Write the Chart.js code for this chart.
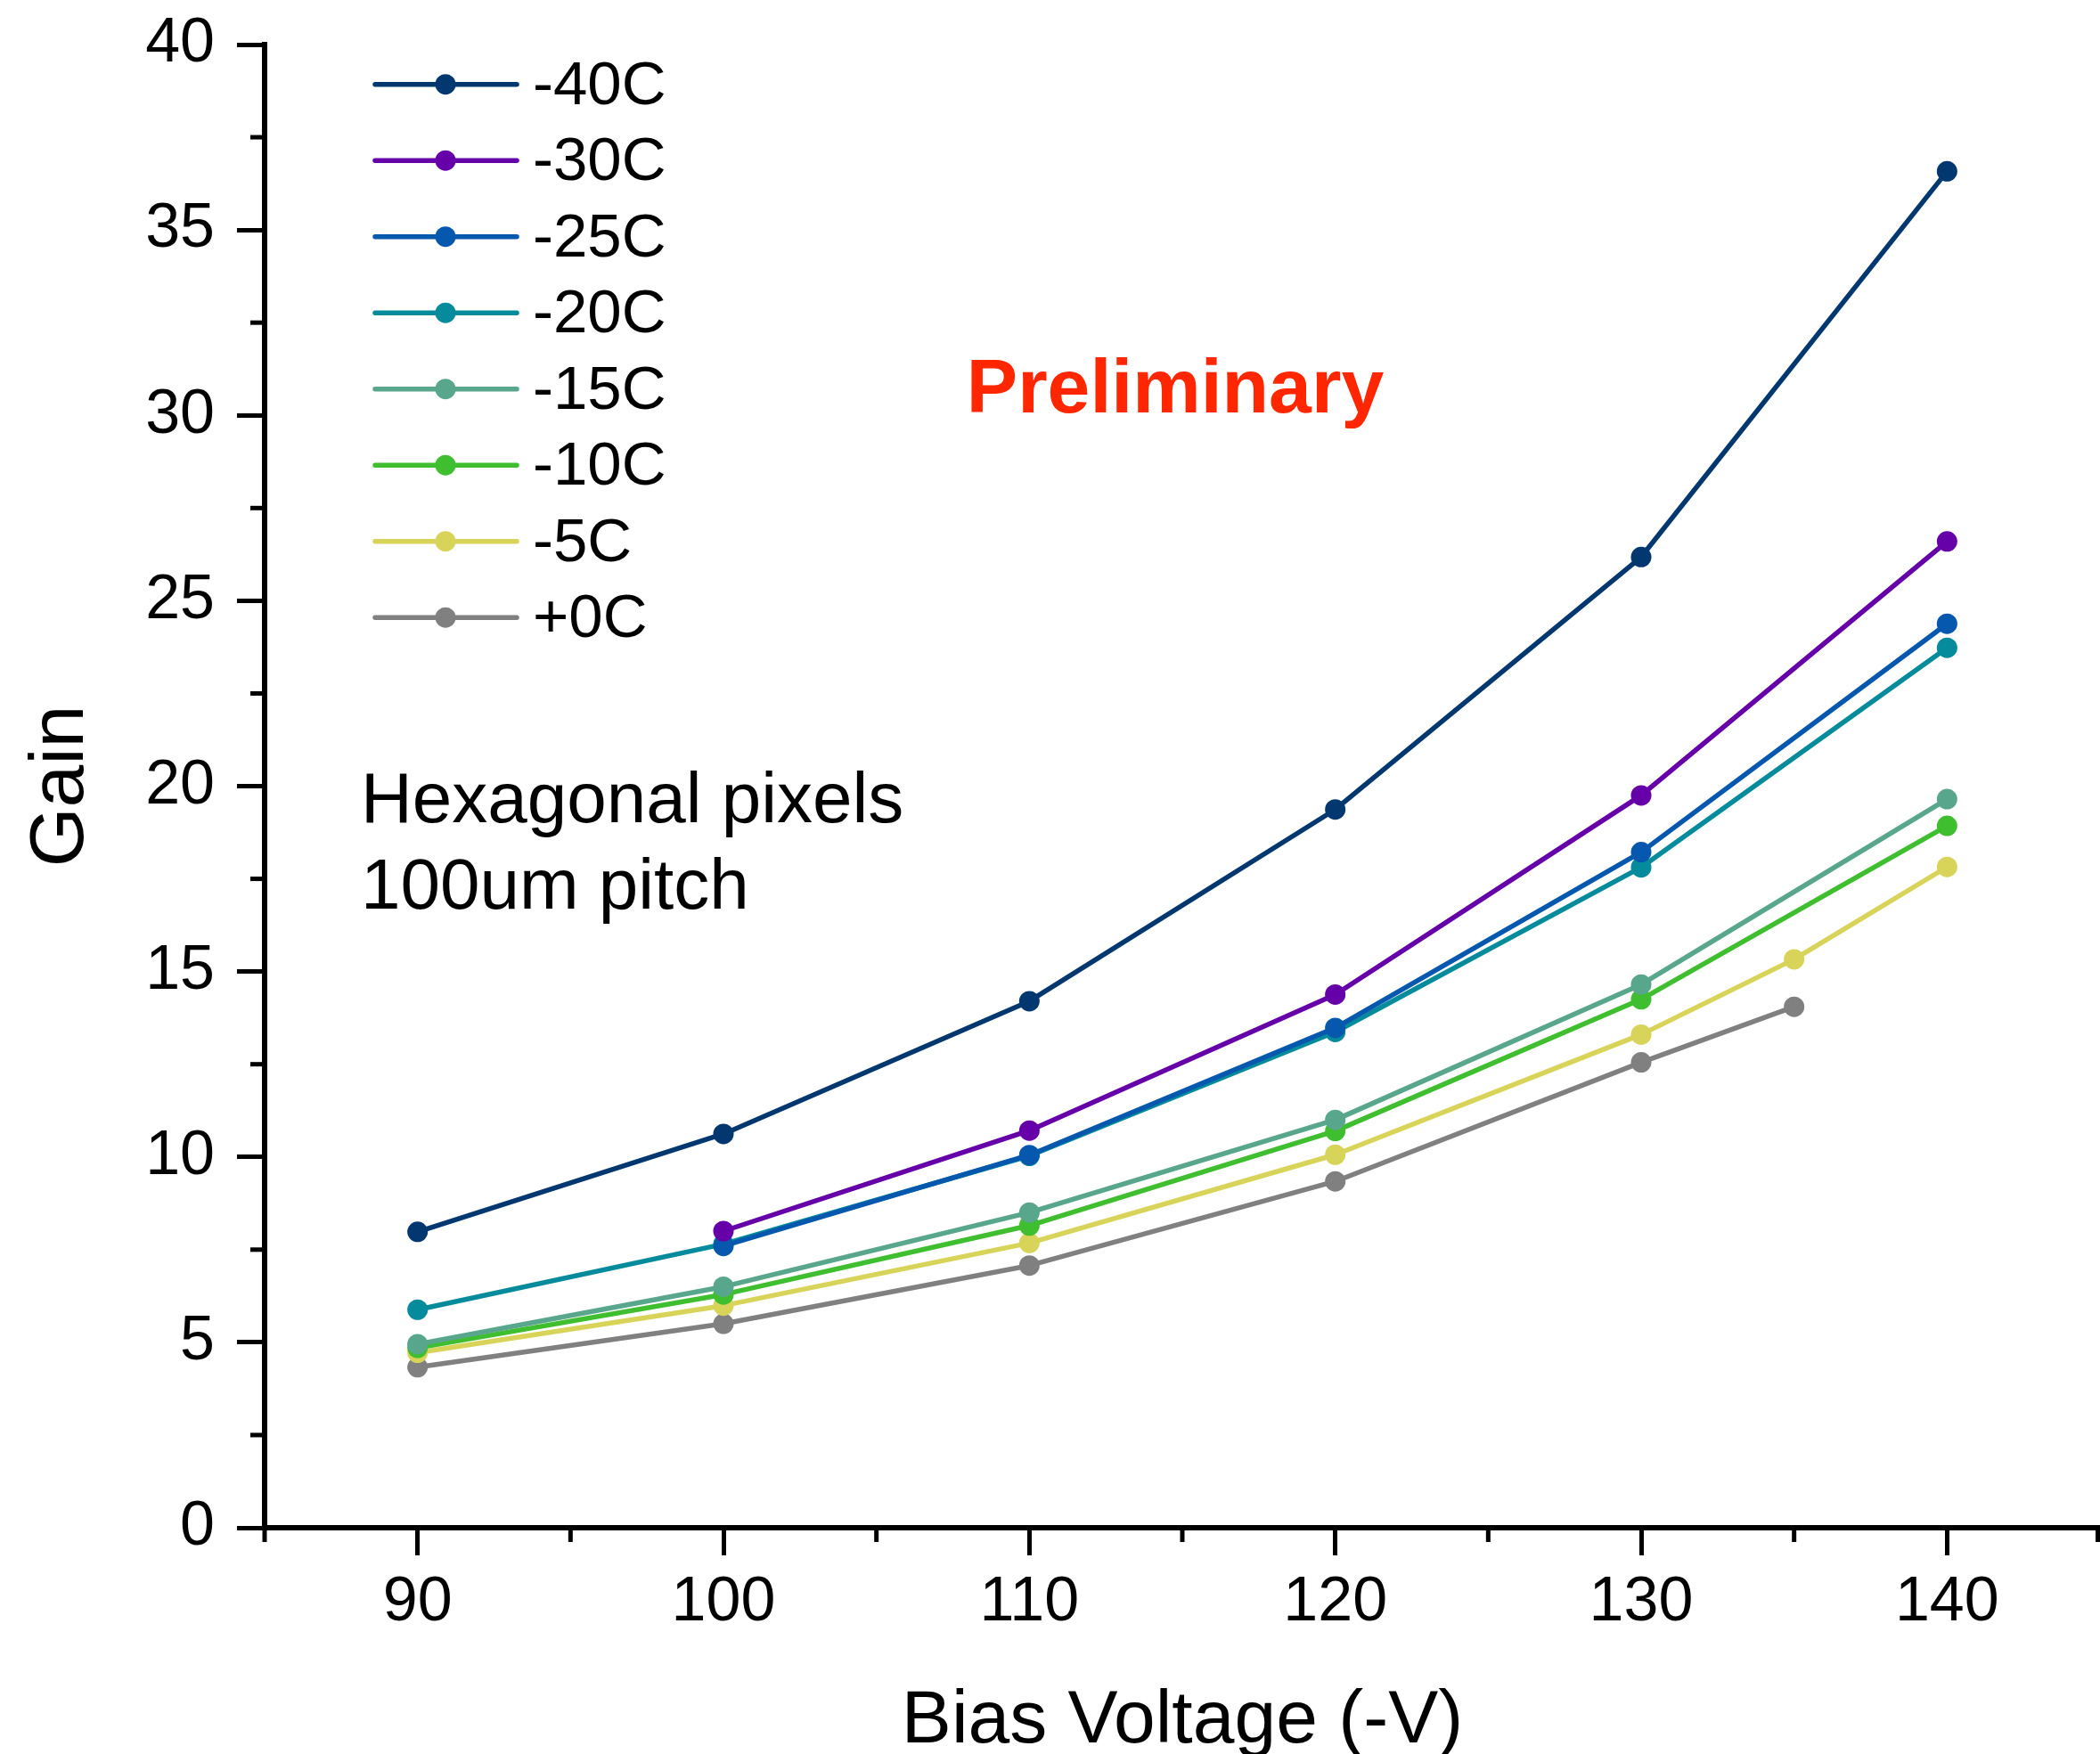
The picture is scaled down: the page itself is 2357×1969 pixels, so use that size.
<!DOCTYPE html>
<html><head><meta charset="utf-8">
<script src="https://cdn.jsdelivr.net/npm/chart.js@4"></script>
<style>html,body{margin:0;padding:0;background:#fff;overflow:hidden}canvas{display:block}</style>
</head><body>
<canvas id="c" width="2357" height="1969"></canvas>
<script>
// ---- data ----
const seriesLabels = ['-40C', '-30C', '-25C', '-20C', '-15C', '-10C', '-5C', '+0C'];
const seriesColors = ['#02386f', '#6600a8', '#0558ae', '#068b9c', '#58a68c', '#3fbf2f', '#d8d45a', '#808080'];

const voltM40 = [90, 100, 110, 120, 130, 140];
const gainM40 = [7.98, 10.62, 14.2, 19.37, 26.18, 36.58];
const voltM30 = [100, 110, 120, 130, 140];
const gainM30 = [8.0, 10.71, 14.38, 19.75, 26.6];
const voltM25 = [100, 110, 120, 130, 140];
const gainM25 = [7.6, 10.05, 13.48, 18.22, 24.38];
const voltM20 = [90, 100, 110, 120, 130, 140];
const gainM20 = [5.88, 7.65, 10.03, 13.37, 17.81, 23.73];
const voltM15 = [90, 100, 110, 120, 130, 140];
const gainM15 = [4.95, 6.5, 8.5, 11.0, 14.65, 19.65];
const voltM10 = [90, 100, 110, 120, 130, 140];
const gainM10 = [4.85, 6.29, 8.15, 10.7, 14.25, 18.93];
const voltM5 = [90, 100, 110, 120, 130, 135, 140];
const gainM5 = [4.72, 5.99, 7.68, 10.06, 13.3, 15.33, 17.82];
const voltP0 = [90, 100, 110, 120, 130, 135];
const gainP0 = [4.33, 5.5, 7.07, 9.34, 12.55, 14.05];

const xTickValues = [90, 100, 110, 120, 130, 140];
const xMinorTickValues = [85, 95, 105, 115, 125, 135, 145];
const yTickValues = [0, 5, 10, 15, 20, 25, 30, 35, 40];
const yMinorTickValues = [2.5, 7.5, 12.5, 17.5, 22.5, 27.5, 32.5, 37.5];

const xTitle = 'Bias Voltage (-V)';
const yTitle = 'Gain';
const noteLines = ['Hexagonal pixels', '100um pitch'];
const stampText = 'Preliminary';

// ---- build ----
const volts = [voltM40, voltM30, voltM25, voltM20, voltM15, voltM10, voltM5, voltP0];
const gains = [gainM40, gainM30, gainM25, gainM20, gainM15, gainM10, gainM5, gainP0];
const FONT = '"Liberation Sans", Arial, Helvetica, sans-serif';
const LINE_W = 5.5;
const PT_R = 11.5;

const datasets = seriesLabels.map((lab, i) => ({
  label: lab,
  data: volts[i].map((v, k) => ({ x: v, y: gains[i][k] })),
  borderColor: seriesColors[i],
  backgroundColor: seriesColors[i],
  borderWidth: LINE_W,
  borderCapStyle: 'round',
  borderJoinStyle: 'round',
  pointRadius: PT_R,
  pointHoverRadius: PT_R,
  pointBorderWidth: 0,
  pointBackgroundColor: seriesColors[i],
  tension: 0,
  fill: false
}));

const extras = {
  id: 'extras',
  afterDraw(chart) {
    const ctx = chart.ctx;
    const xs = chart.scales.x, ys = chart.scales.y;
    const area = chart.chartArea;
    ctx.save();
    // minor ticks
    ctx.strokeStyle = '#000';
    ctx.lineWidth = 5;
    ctx.lineCap = 'butt';
    xMinorTickValues.forEach(v => {
      const px = Math.min(xs.getPixelForValue(v), chart.width - 2.5);
      ctx.beginPath(); ctx.moveTo(px, area.bottom); ctx.lineTo(px, area.bottom + 16); ctx.stroke();
    });
    yMinorTickValues.forEach(v => {
      const py = ys.getPixelForValue(v);
      ctx.beginPath(); ctx.moveTo(area.left - 16, py); ctx.lineTo(area.left, py); ctx.stroke();
    });
    // legend
    chart.data.datasets.forEach((ds, i) => {
      const y = 94.7 + i * 85.5;
      ctx.strokeStyle = ds.borderColor;
      ctx.lineWidth = LINE_W;
      ctx.lineCap = 'round';
      ctx.beginPath(); ctx.moveTo(421, y); ctx.lineTo(580, y); ctx.stroke();
      ctx.fillStyle = ds.borderColor;
      ctx.beginPath(); ctx.arc(500, y, PT_R, 0, Math.PI * 2); ctx.fill();
      ctx.fillStyle = '#000';
      ctx.font = '69px ' + FONT;
      ctx.textAlign = 'left';
      ctx.textBaseline = 'middle';
      ctx.fillText(ds.label, 598, y + 3);
    });
    // notes
    ctx.fillStyle = '#000';
    ctx.font = '80px ' + FONT;
    ctx.textAlign = 'left';
    ctx.textBaseline = 'middle';
    ctx.fillText(noteLines[0], 405, 901);
    ctx.fillText(noteLines[1], 405, 998);
    ctx.fillStyle = '#ff2600';
    ctx.font = 'bold 86px ' + FONT;
    ctx.textAlign = 'center';
    ctx.fillText(stampText, 1319, 439);
    ctx.restore();
  }
};

new Chart(document.getElementById('c'), {
  type: 'line',
  data: { datasets },
  plugins: [extras],
  options: {
    responsive: false,
    animation: false,
    devicePixelRatio: 1,
    layout: { autoPadding: false, padding: { top: 50, right: 0, bottom: 0, left: 0 } },
    plugins: { legend: { display: false }, tooltip: { enabled: false } },
    scales: {
      x: {
        type: 'linear',
        min: 85, max: 145,
        afterBuildTicks: s => { s.ticks = xTickValues.map(v => ({ value: v })); },
        afterFit: s => { s.height = 254; s.paddingLeft = 0; s.paddingRight = 0; },
        grid: { display: true, drawOnChartArea: false, drawTicks: true, tickLength: 31, tickWidth: 5, tickColor: '#000' },
        border: { display: true, width: 6, color: '#000' },
        ticks: { color: '#000', font: { family: FONT, size: 70 }, padding: 12, maxRotation: 0, autoSkip: false },
        title: { display: true, text: xTitle, color: '#000', font: { family: FONT, size: 84, lineHeight: 0.86 }, padding: { top: 0, bottom: 0 } }
      },
      y: {
        type: 'linear',
        min: 0, max: 40,
        afterBuildTicks: s => { s.ticks = yTickValues.map(v => ({ value: v })); },
        afterFit: s => { s.width = 297; s.paddingTop = 0; s.paddingBottom = 0; },
        grid: { display: true, drawOnChartArea: false, drawTicks: true, tickLength: 31, tickWidth: 5, tickColor: '#000' },
        border: { display: true, width: 6, color: '#000' },
        ticks: { color: '#000', font: { family: FONT, size: 70 }, padding: 25, autoSkip: false },
        title: { display: true, text: yTitle, color: '#000', font: { family: FONT, size: 86, lineHeight: 1 }, padding: { top: 26, bottom: 0 } }
      }
    }
  }
});
</script>
</body></html>
